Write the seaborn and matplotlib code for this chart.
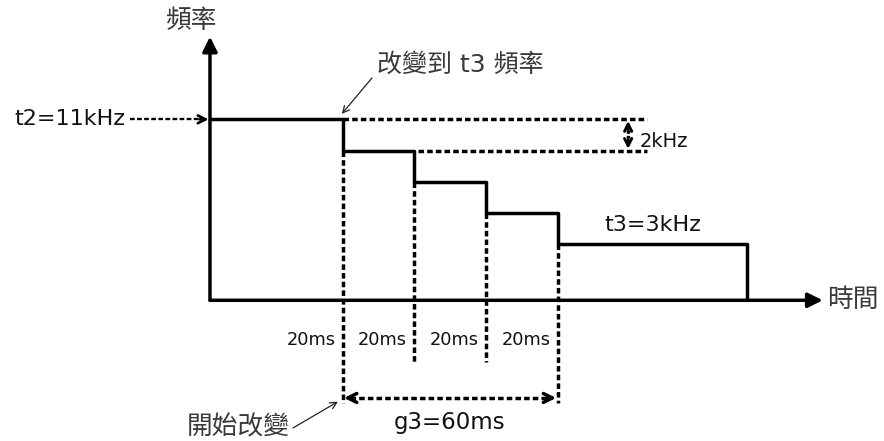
import matplotlib
matplotlib.use("Agg")
import matplotlib.pyplot as plt
import seaborn as sns
import pandas as pd

# Datos del diagrama (tiempo en ms, frecuencia en kHz)
step_times = [0, 37, 57, 77, 97, 150]      # inicio de cada nivel y fin
step_freqs = [11, 9, 7, 5, 3, 3]           # t2=11kHz bajando 2kHz cada 20ms hasta t3=3kHz
interval_labels = ["20ms", "20ms", "20ms", "20ms"]
t2_label = "t2=11kHz"
t3_label = "t3=3kHz"
step_label = "2kHz"
g3_label = "g3=60ms"

base = -0.6  # nivel del eje de tiempo

sns.set_theme(style="white")
plt.rcParams["font.family"] = ["DejaVu Sans", "Noto Sans CJK TC"]

fig = plt.figure(figsize=(8.84, 4.41), dpi=100)
ax = fig.add_axes([0, 0, 1, 1])
ax.set_xlim(-58.6, 188.1)
ax.set_ylim(-9.62, 18.65)
ax.axis("off")

lw = 2.5
dot = (0, (1.6, 0.9))
cjk = "#3a3a3a"

# Ejes con flecha
ax.annotate("", xy=(0, 16.3), xytext=(0, base),
            arrowprops=dict(arrowstyle="-|>", lw=lw, color="black",
                            mutation_scale=22, shrinkA=0, shrinkB=0))
ax.annotate("", xy=(171, base), xytext=(0, base),
            arrowprops=dict(arrowstyle="-|>", lw=lw, color="black",
                            mutation_scale=22, shrinkA=0, shrinkB=0))

# Curva escalonada
df = pd.DataFrame({"t": step_times + [step_times[-1]],
                   "f": step_freqs + [base]})
sns.lineplot(data=df, x="t", y="f", drawstyle="steps-post", sort=False,
             estimator=None, color="black", lw=lw, ax=ax)

# Líneas verticales punteadas en cada cambio
t_start, t_end = step_times[1], step_times[4]
ax.plot([t_start, t_start], [step_freqs[1], -7.2], color="black", lw=lw, ls=dot)
for t, f in zip(step_times[2:4], step_freqs[2:4]):
    ax.plot([t, t], [f, -4.55], color="black", lw=lw, ls=dot)
ax.plot([t_end, t_end], [step_freqs[4], -7.2], color="black", lw=lw, ls=dot)

# Líneas horizontales punteadas (paso de 2kHz)
ax.plot([t_start, 122], [step_freqs[0], step_freqs[0]], color="black", lw=lw, ls=dot)
ax.plot([step_times[2] + 1, 122], [step_freqs[1], step_freqs[1]], color="black", lw=lw, ls=dot)


def head(tip, dx, dy, width, scale):
    ax.annotate("", xy=tip, xytext=(tip[0] - dx, tip[1] - dy),
                arrowprops=dict(arrowstyle="->", lw=width, color="black",
                                mutation_scale=scale, shrinkA=0, shrinkB=0))


# flecha t2 -> eje
ax.plot([-22.3, -1.5], [step_freqs[0]] * 2, color="black", lw=1.7, ls=(0, (2.0, 1.0)))
head((-0.4, step_freqs[0]), 2.5, 0, 1.9, 14)

# flecha doble 2kHz
xa = 116.7
ax.plot([xa, xa], [step_freqs[1] + 0.5, step_freqs[0] - 0.5], color="black",
        lw=lw, ls=(0, (0.8, 0.6)))
head((xa, step_freqs[0] - 0.1), 0, 0.6, 2.1, 13)
head((xa, step_freqs[1] + 0.1), 0, -0.6, 2.1, 13)

# flecha doble g3
yg = -6.86
ax.plot([t_start + 2, t_end - 2], [yg, yg], color="black", lw=lw, ls=dot)
head((t_start + 0.4, yg), -2.5, 0, lw, 16)
head((t_end - 0.4, yg), 2.5, 0, lw, 16)

# Textos
ax.text(-5.3, 17.3, "頻率", fontsize=18.5, color=cjk, ha="center", va="center")
ax.text(-23.5, step_freqs[0], t2_label, fontsize=16, color="#111111",
        ha="right", va="center")
ax.text(46.6, 14.5, "改變到 t3 頻率", fontsize=18, color=cjk, ha="left", va="center")
ax.text(120, 9.55, step_label, fontsize=14, color="#111111", ha="left", va="center")
ax.text(123.6, 4.25, t3_label, fontsize=16, color="#111111", ha="center", va="center")
ax.text(172.3, base, "時間", fontsize=18.5, color=cjk, ha="left", va="center")
for t, lab in zip(step_times[1:5], interval_labels):
    ax.text(t - 2.0, -3.14, lab, fontsize=12.8, color="#111111", ha="right", va="center")
ax.text((t_start + t_end) / 2, -8.45, g3_label, fontsize=16.5, color="#111111",
        ha="center", va="center")
ax.text(22.3, -8.75, "開始改變", fontsize=18.5, color=cjk, ha="right", va="center")

# Flechas finas de anotación
ax.annotate("", xy=(36.8, 11.35), xytext=(45.2, 13.65),
            arrowprops=dict(arrowstyle="->", lw=0.9, color="#222222",
                            mutation_scale=12, shrinkA=0, shrinkB=0))
ax.annotate("", xy=(35.7, -7.1), xytext=(23.2, -8.78),
            arrowprops=dict(arrowstyle="->", lw=0.9, color="#222222",
                            mutation_scale=12, shrinkA=0, shrinkB=0))

fig.savefig("out.png", dpi=100, facecolor="white")
